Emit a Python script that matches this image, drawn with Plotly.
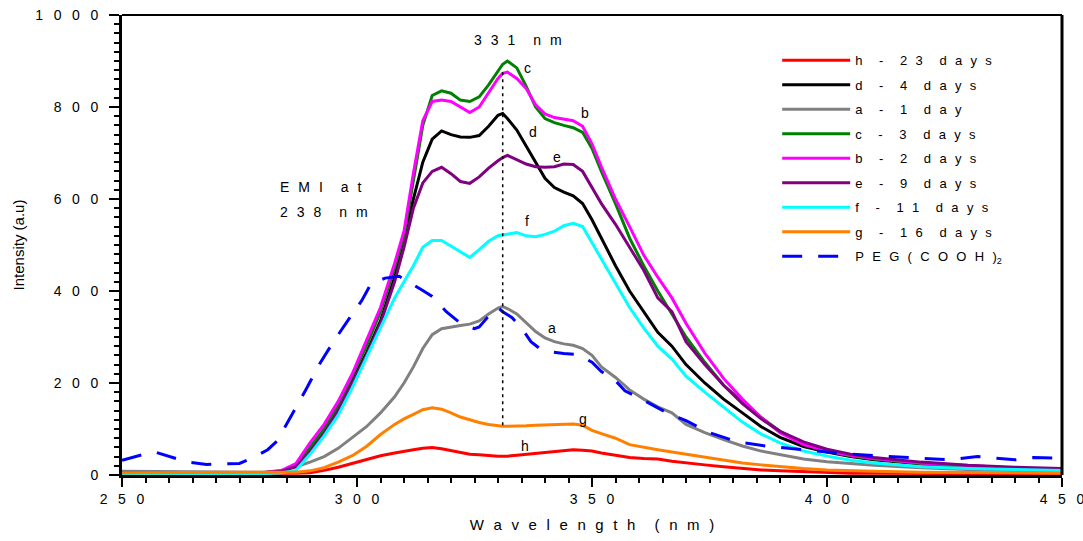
import plotly.graph_objects as go

# ---------------- data ----------------
wavelength = [250, 260, 270, 280, 284, 287, 290, 293, 296, 299, 302, 305, 308, 310, 312, 314, 316, 318, 320,
              322, 324, 326, 328, 330, 331, 332, 334, 336, 338, 340, 342, 344, 346, 348, 350, 352, 355, 358,
              361, 364, 367, 370, 374, 378, 382, 386, 390, 395, 400, 405, 410, 420, 430, 440, 450]

h_23_days = [3, 3, 3, 3, 3, 4, 5, 10, 17, 25, 33, 42, 48, 52, 55, 58, 60, 57, 53,
             48, 45, 44, 42, 41, 41, 41, 43, 45, 47, 50, 52, 54, 55, 54, 52, 48, 43, 38,
             36, 35, 30, 26, 22, 18, 14, 11, 9, 7, 5, 4, 4, 3, 3, 3, 3]
d_4_days = [5, 5, 5, 5, 8, 20, 55, 95, 145, 205, 265, 335, 430, 520, 600, 680, 730, 748, 740,
            735, 734, 738, 758, 782, 786, 775, 750, 715, 680, 645, 625, 615, 607, 590, 555, 515, 455, 400,
            355, 310, 280, 240, 200, 165, 135, 105, 82, 62, 50, 40, 33, 24, 18, 14, 11]
a_1_day = [8, 7, 6, 6, 10, 18, 28, 40, 58, 82, 105, 135, 170, 200, 235, 275, 305, 318, 322,
           325, 328, 335, 350, 363, 366, 362, 350, 330, 312, 298, 290, 285, 282, 275, 260, 235, 212, 185,
           165, 148, 135, 110, 92, 77, 63, 52, 44, 35, 29, 25, 21, 16, 12, 10, 8]
c_3_days = [5, 5, 5, 5, 8, 20, 60, 100, 150, 215, 280, 355, 450, 520, 640, 760, 825, 835, 830,
            815, 812, 822, 848, 880, 893, 900, 885, 845, 800, 775, 766, 760, 755, 745, 710, 660, 590, 515,
            455, 400, 350, 300, 245, 195, 160, 125, 95, 68, 52, 42, 35, 25, 18, 14, 11]
b_2_days = [5, 5, 5, 5, 10, 25, 70, 110, 160, 220, 292, 364, 460, 530, 656, 770, 812, 815, 812,
            800, 788, 800, 830, 862, 873, 876, 862, 840, 805, 785, 777, 773, 770, 758, 720, 670, 600, 540,
            478, 430, 385, 330, 265, 210, 165, 125, 92, 66, 52, 43, 36, 26, 20, 15, 12]
e_9_days = [5, 5, 5, 5, 8, 18, 50, 90, 140, 200, 260, 330, 420, 495, 580, 635, 660, 669, 655,
            638, 634, 648, 667, 683, 690, 695, 685, 676, 670, 669, 670, 676, 675, 660, 625, 590, 545, 495,
            445, 385, 355, 290, 240, 195, 155, 122, 95, 72, 56, 45, 38, 28, 21, 17, 14]
f_11_days = [3, 3, 3, 3, 5, 10, 45, 85, 130, 190, 255, 320, 385, 420, 455, 495, 510, 510, 498,
             485, 473, 490, 508, 520, 522, 524, 527, 520, 518, 523, 530, 542, 547, 540, 505, 470, 415, 364,
             320, 280, 252, 215, 180, 147, 115, 89, 70, 52, 41, 32, 26, 18, 14, 12, 10]
g_16_days = [5, 5, 5, 5, 5, 6, 9, 16, 28, 42, 62, 88, 110, 122, 132, 142, 146, 143, 135,
             126, 120, 114, 110, 107, 106, 106, 106, 107, 108, 109, 110, 110, 111, 108, 97, 90, 80, 66,
             60, 55, 50, 45, 38, 32, 26, 22, 18, 14, 11, 9, 8, 6, 5, 4, 4]

peg_wavelength = [250, 252, 255, 257, 260, 264, 268, 272, 275, 278, 281, 283, 286, 289, 292, 295, 298, 301,
                  303, 306, 309, 311, 314, 316, 319, 322, 325, 326, 328, 329, 330, 331, 333, 335, 337, 339,
                  341, 344, 347, 350, 352, 355, 357, 360, 364, 366, 370, 375, 381, 387, 395, 402, 410, 418,
                  426, 432, 436, 440, 444, 448, 450]
peg_cooh2 = [32, 38, 46, 50, 40, 28, 23, 25, 25, 38, 55, 74, 128, 183, 241, 290, 335, 379,
             416, 428, 432, 420, 401, 388, 355, 330, 318, 322, 345, 357, 364, 355, 342, 320, 290, 274,
             268, 264, 262, 245, 225, 205, 183, 168, 146, 135, 118, 92, 72, 63, 55, 48, 42, 37,
             33, 40, 36, 33, 38, 37, 42]

series_names = ["h - 23 days", "d - 4 days", "a - 1 day", "c - 3 days", "b - 2 days",
                "e - 9 days", "f - 11 days", "g - 16 days"]
series_values = [h_23_days, d_4_days, a_1_day, c_3_days, b_2_days, e_9_days, f_11_days, g_16_days]
series_colors = ["#FF0000", "#000000", "#808080", "#008000", "#FF00FF", "#800080", "#00FFFF", "#FF8000"]
peg_name = "PEG(COOH)"

marker_wavelength = 331
marker_range = [108, 878]

curve_labels = ["c", "b", "d", "e", "f", "a", "g", "h"]
curve_label_x = [336.2, 348.5, 337.4, 342.6, 336.2, 341.5, 348.1, 335.7]
curve_label_y = [884, 786, 745, 691, 553, 320, 122, 63]

x_ticks = [250, 300, 350, 400, 450]
y_ticks = [0, 200, 400, 600, 800, 1000]

FONT = "Liberation Sans, Arial, sans-serif"
SEP = "\u2007\u200a"
TSEP = "\u2007\u2009"


def spaced(s, sep=SEP):
    return (sep * 2).join(sep.join(w) for w in s.split(" "))


fig = go.Figure()
for name, vals, col in zip(series_names, series_values, series_colors):
    fig.add_trace(go.Scatter(x=wavelength, y=vals, mode="lines", name=spaced(name),
                             legendgroup=name, line=dict(color=col, width=3)))
fig.add_trace(go.Scatter(x=peg_wavelength, y=peg_cooh2, mode="lines",
                         name=spaced(peg_name) + "<sub>2</sub>", legendgroup="peg",
                         line=dict(color="#0000FF", width=3, dash="20px,16px")))
fig.add_trace(go.Scatter(x=[marker_wavelength, marker_wavelength], y=marker_range, mode="lines",
                         showlegend=False, line=dict(color="black", width=1.5, dash="3px,4px")))

annotations = []
for t, x, y in zip(curve_labels, curve_label_x, curve_label_y):
    annotations.append(dict(x=x, y=y, text=t, showarrow=False, font=dict(family=FONT, size=14, color="black")))
annotations.append(dict(x=334.3, y=945, text=spaced("331 nm"), showarrow=False,
                        font=dict(family=FONT, size=14, color="black")))
annotations.append(dict(x=283.2, y=627, text=spaced("EMI at"), showarrow=False, xanchor="left",
                        font=dict(family=FONT, size=14, color="black")))
annotations.append(dict(x=283.2, y=572, text=spaced("238 nm"), showarrow=False, xanchor="left",
                        font=dict(family=FONT, size=14, color="black")))

axis_common = dict(showline=True, linewidth=3, linecolor="black", ticks="outside", tickwidth=2,
                   tickcolor="black", showgrid=False, zeroline=False, ticklabeloverflow="allow",
                   automargin=False, tickfont=dict(family=FONT, size=14, color="black"))

fig.update_layout(
    width=1083, height=541,
    margin=dict(l=122, r=21, t=15, b=66),
    plot_bgcolor="white", paper_bgcolor="white",
    xaxis=dict(range=[250, 450], tickvals=x_ticks, ticktext=[spaced(str(v), TSEP) for v in x_ticks],
               ticklen=9, minor=dict(dtick=5, tick0=250, ticks="outside", ticklen=5, tickwidth=1.5,
                                     tickcolor="black"),
               title=dict(text=spaced("Wavelength (nm)"), font=dict(family=FONT, size=15, color="black"),
                          standoff=14),
               **axis_common),
    yaxis=dict(range=[0, 1000], tickvals=y_ticks, ticktext=[spaced(str(v), TSEP) for v in y_ticks],
               ticklen=10, ticklabelstandoff=8,
               minor=dict(dtick=20, tick0=0, ticks="outside", ticklen=5, tickwidth=1.5,
                          tickcolor="black"),
               title=dict(text="Intensity (a.u)", font=dict(family=FONT, size=15, color="black"),
                          standoff=8),
               **axis_common),
    legend=dict(x=0.697, xanchor="left", y=0.934, yanchor="top", bgcolor="rgba(0,0,0,0)",
                borderwidth=0, itemwidth=68, tracegroupgap=4.6,
                font=dict(family=FONT, size=13, color="black")),
    shapes=[dict(type="line", xref="paper", yref="paper", x0=0, x1=1, y0=1, y1=1,
                 line=dict(color="black", width=2)),
            dict(type="line", xref="paper", yref="paper", x0=1, x1=1, y0=0, y1=1,
                 line=dict(color="black", width=3))],
    annotations=annotations,
)

fig.write_html("out.html")
